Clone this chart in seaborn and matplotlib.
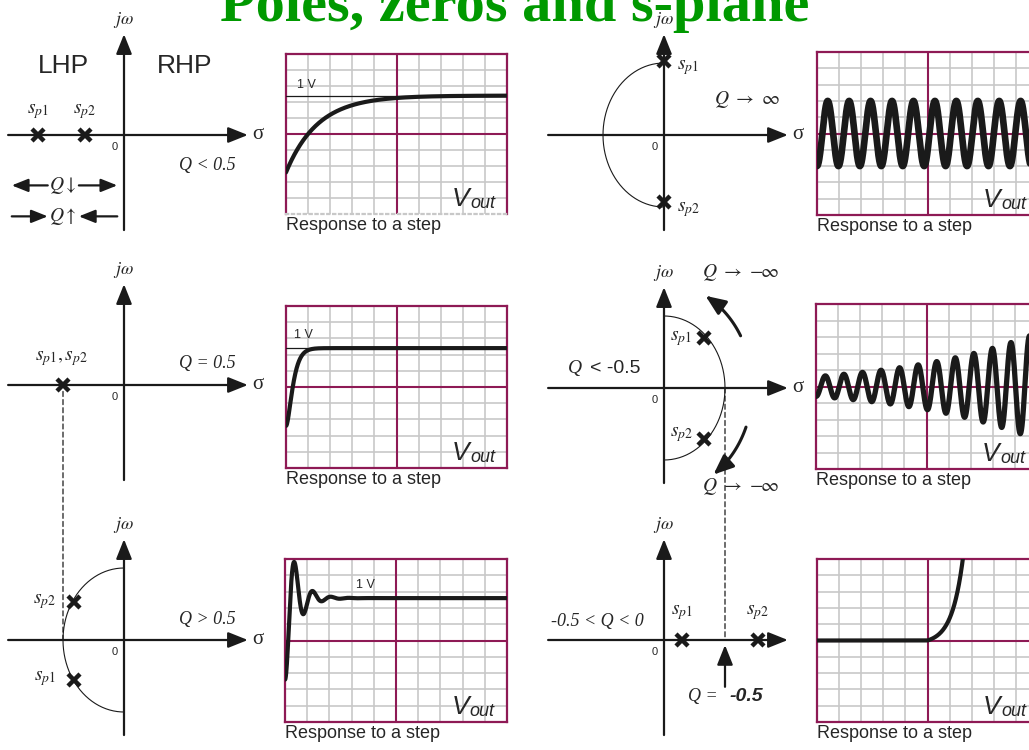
import numpy as np
import matplotlib
matplotlib.use("Agg")
import matplotlib.pyplot as plt
from matplotlib.patches import ConnectionPatch
import seaborn as sns

# ---------------------------------------------------------------- data
# pole locations (sigma, omega) on each s-plane, omega_0 normalised to 1
poles_q_low = [(-1.41, 0.0), (-0.64, 0.0)]        # Q < 0.5
poles_q_half = [(-1.0, 0.0)]                       # Q = 0.5
poles_q_high = [(-0.82, 0.53), (-0.82, -0.55)]     # Q > 0.5
poles_q_inf = [(0.0, 1.03), (0.0, -0.93)]          # Q -> inf
poles_q_neg = [(0.66, 0.69), (0.66, -0.71)]        # Q < -0.5
poles_q_negsmall = [(0.30, 0.0), (1.54, 0.0)]      # -0.5 < Q < 0
locus_radius = 1.0
swing_radius = 1.45
swing_arcs_deg = [(30.0, 62.0), (-22.0, -56.0)]    # Q -> -inf movement

# step-response shapes (time in divisions, level in divisions)
level_zero = -2.4
level_one = 2.4
tau_over = 1.44                  # Q < 0.5
wn_crit = 5.5                    # Q = 0.5
zeta_under, wn_under = 0.25, 7.9 # Q > 0.5
level_one_under = 2.6
osc_amp, osc_period = 2.0, 0.97                       # Q -> inf
grow_amp, grow_rate, grow_period = 0.6, 0.169, 0.84   # Q < -0.5
exp_start, exp_amp, exp_rate = 5.0, 0.213, 2.0        # -0.5 < Q < 0

# ---------------------------------------------------------------- style
sns.set_theme(style="white")
plt.rcParams["font.family"] = ["Liberation Sans", "DejaVu Sans"]
plt.rcParams["mathtext.fontset"] = "stix"

MAROON = "#8e1a55"
GRID = "#c8c8c8"
SERIF = ["Liberation Serif", "DejaVu Serif"]
AXLW = 1.6

W, H = 1029, 750
fig = plt.figure(figsize=(W / 100, H / 100), dpi=100)
fig.patch.set_facecolor("white")


def px_axes(left, top, right, bottom):
    return fig.add_axes([left / W, 1 - bottom / H, (right - left) / W, (bottom - top) / H])


def arrow(ax, start, end, lw=AXLW, hl=0.6, hw=0.24, ms=20):
    ax.annotate("", xy=end, xytext=start, xycoords="data",
                arrowprops=dict(arrowstyle=f"-|>,head_length={hl},head_width={hw}",
                                lw=lw, color="k", shrinkA=0, shrinkB=0,
                                mutation_scale=ms),
                annotation_clip=False)


# s-plane panels: pixels per unit along sigma and omega
SX, SY = 61, 72
XL, YL = (-2.2, 2.4), (-1.5, 1.7)


def splane(ox, oy, sigma_label=True):
    ax = px_axes(ox + XL[0] * SX, oy - YL[1] * SY, ox + XL[1] * SX, oy - YL[0] * SY)
    ax.set_xlim(*XL)
    ax.set_ylim(*YL)
    ax.axis("off")
    arrow(ax, (-1.9, 0), (2.03, 0))
    arrow(ax, (0, -1.32), (0, 1.40))
    if sigma_label:
        ax.text(2.1, 0.01, "σ", ha="left", va="center", fontsize=15, family=SERIF)
    ax.text(-0.15, -0.16, "0", ha="center", va="center", fontsize=8)
    ax.text(0, 1.6, r"$j\omega$", ha="center", va="center", fontsize=13)
    return ax


def poles(ax, pts):
    xs = [p[0] for p in pts]
    ys = [p[1] for p in pts]
    ax.plot(xs, ys, "x", ms=9, mew=3.2, color="k", clip_on=False, zorder=5)


def locus(ax, a0, a1):
    th = np.radians(np.linspace(a0, a1, 200))
    ax.plot(locus_radius * np.cos(th), locus_radius * np.sin(th),
            color="k", lw=0.8, clip_on=False)


def serif_it(ax, x, y, s, size=13, **kw):
    kw.setdefault("ha", "center")
    kw.setdefault("va", "center")
    ax.text(x, y, s, fontsize=size, family=SERIF, style="italic", **kw)


def scope(left, top, right, bottom, dotted_bottom=False):
    ax = px_axes(left, top, right, bottom)
    ax.set_xlim(0, 10)
    ax.set_ylim(-5, 5)
    ax.set_xticks([])
    ax.set_yticks([])
    ax.set_facecolor("white")
    for k in range(1, 10):
        if k == 5:
            continue
        ax.axvline(k, color=GRID, lw=1.2, zorder=1)
        ax.axhline(k - 5, color=GRID, lw=1.2, zorder=1)
    ax.axvline(5, color=MAROON, lw=1.5, zorder=1.5)
    ax.axhline(0, color=MAROON, lw=1.5, zorder=1.5)
    for sp in ax.spines.values():
        sp.set_visible(True)
        sp.set_color(MAROON)
        sp.set_linewidth(1.6)
    if dotted_bottom:
        ax.spines["bottom"].set_color(GRID)
        ax.spines["bottom"].set_linestyle(":")
    v = ax.text(7.5, -4.5, "V", fontsize=19, style="italic", ha="left", va="baseline", zorder=6)
    ax.annotate("out", xy=(1, 0), xycoords=v, xytext=(0.5, -1), textcoords="offset points",
                fontsize=13, style="italic", ha="left", va="bottom", zorder=6)
    ax.annotate("Response to a step", xy=(0, 0), xycoords="axes fraction",
                xytext=(0, -2), textcoords="offset points", ha="left", va="top",
                fontsize=13, annotation_clip=False)
    return ax


def trace(ax, t, y, lw=3.0):
    sns.lineplot(x=t, y=y, ax=ax, color="k", lw=lw, sort=False, estimator=None,
                 zorder=4, legend=False)
    ax.set_xlim(0, 10)
    ax.set_ylim(-5, 5)
    ax.set_xlabel("")
    ax.set_ylabel("")


t = np.linspace(0, 10, 2000)

# ---------------------------------------------------------------- title
fig.text(0.5, 1 - 21 / H, "Poles, zeros and s-plane", ha="center", va="baseline",
         fontsize=42, fontweight="bold", family=SERIF, color="#009900")

# ---------------------------------------------------------------- Q < 0.5
ax1 = splane(124, 135)
poles(ax1, poles_q_low)
ax1.text(-1.0, 0.96, "LHP", ha="center", va="center", fontsize=19)
ax1.text(1.0, 0.96, "RHP", ha="center", va="center", fontsize=19)
ax1.text(poles_q_low[0][0], 0.32, r"$s_{p1}$", ha="center", va="center", fontsize=14)
ax1.text(poles_q_low[1][0], 0.32, r"$s_{p2}$", ha="center", va="center", fontsize=14)
serif_it(ax1, 1.36, -0.42, "Q < 0.5")
arrow(ax1, (-1.25, -0.70), (-1.84, -0.70), hl=0.55, hw=0.22, ms=18)
arrow(ax1, (-0.74, -0.70), (-0.11, -0.70), hl=0.55, hw=0.22, ms=18)
ax1.text(-1.0, -0.70, r"$Q\downarrow$", ha="center", va="center", fontsize=14)
arrow(ax1, (-1.84, -1.13), (-1.25, -1.13), hl=0.55, hw=0.22, ms=18)
arrow(ax1, (-0.11, -1.13), (-0.74, -1.13), hl=0.55, hw=0.22, ms=18)
ax1.text(-1.0, -1.13, r"$Q\uparrow$", ha="center", va="center", fontsize=14)

s1 = scope(286, 54, 507, 214, dotted_bottom=True)
s1.axhline(level_one, color="k", lw=0.9, zorder=3)
s1.text(0.5, level_one + 0.5, "1 V", fontsize=9, ha="left", va="baseline")
trace(s1, t, level_zero + (level_one - level_zero) * (1 - np.exp(-t / tau_over)))

# ---------------------------------------------------------------- Q -> inf
ax2 = splane(664, 135)
locus(ax2, 90, 270)
poles(ax2, poles_q_inf)
ax2.text(0.22, poles_q_inf[0][1] - 0.09, r"$s_{p1}$", ha="left", va="center", fontsize=14)
ax2.text(0.22, poles_q_inf[1][1] - 0.10, r"$s_{p2}$", ha="left", va="center", fontsize=14)
ax2.text(1.36, 0.49, r"$Q\ \rightarrow\ \infty$", ha="center", va="center", fontsize=14)

s2 = scope(817, 52, 1038, 215)
trace(s2, t, -osc_amp * np.cos(2 * np.pi * t / osc_period), lw=4.8)

# ---------------------------------------------------------------- Q = 0.5
ax3 = splane(124, 385)
poles(ax3, poles_q_half)
ax3.text(-1.02, 0.37, r"$s_{p1}, s_{p2}$", ha="center", va="center", fontsize=14)
serif_it(ax3, 1.36, 0.30, "Q = 0.5")

s3 = scope(286, 306, 507, 468)
s3.axhline(level_one, color="k", lw=0.9, zorder=3)
s3.text(0.35, level_one + 0.6, "1 V", fontsize=9, ha="left", va="baseline")
trace(s3, t, level_zero + (level_one - level_zero)
      * (1 - (1 + wn_crit * t) * np.exp(-wn_crit * t)))

# ---------------------------------------------------------------- Q < -0.5
ax4 = splane(664, 388)
locus(ax4, -90, 90)
poles(ax4, poles_q_neg)
ax4.text(0.28, 0.69, r"$s_{p1}$", ha="center", va="center", fontsize=14)
ax4.text(0.28, -0.65, r"$s_{p2}$", ha="center", va="center", fontsize=14)
serif_it(ax4, -1.46, 0.27, "Q", size=14)
ax4.text(-1.22, 0.27, "< -0.5", ha="left", va="center", fontsize=14)
ax4.text(1.26, 1.60, r"$Q\ \rightarrow\ {-}\!\infty$", ha="center", va="center", fontsize=14)
ax4.text(1.26, -1.37, r"$Q\ \rightarrow\ {-}\!\infty$", ha="center", va="center", fontsize=14)
for a0, a1 in swing_arcs_deg:
    th = np.radians(np.linspace(a0, a1, 80))
    xs, ys = swing_radius * np.cos(th), swing_radius * np.sin(th)
    ax4.plot(xs[:-6], ys[:-6], color="k", lw=2.2, clip_on=False)
    arrow(ax4, (xs[-14], ys[-14]), (xs[-1], ys[-1]), lw=2.2, hl=0.6, hw=0.25, ms=20)

s4 = scope(816, 304, 1037, 469)
trace(s4, t, -grow_amp * np.exp(grow_rate * t) * np.cos(2 * np.pi * t / grow_period), lw=3.8)

# ---------------------------------------------------------------- Q > 0.5
ax5 = splane(124, 640)
locus(ax5, 90, 270)
poles(ax5, poles_q_high)
ax5.text(-1.30, 0.54, r"$s_{p2}$", ha="center", va="center", fontsize=14)
ax5.text(-1.30, -0.53, r"$s_{p1}$", ha="center", va="center", fontsize=14)
serif_it(ax5, 1.36, 0.28, "Q > 0.5")

s5 = scope(285, 559, 507, 722)
s5.text(3.2, level_one_under + 0.65, "1 V", fontsize=9, ha="left", va="baseline")
wd = wn_under * np.sqrt(1 - zeta_under ** 2)
under = 1 - np.exp(-zeta_under * wn_under * t) * (
    np.cos(wd * t) + zeta_under / np.sqrt(1 - zeta_under ** 2) * np.sin(wd * t))
trace(s5, t, level_zero + (level_one_under - level_zero) * under)

# ---------------------------------------------------------------- -0.5 < Q < 0
ax6 = splane(664, 640, sigma_label=False)
poles(ax6, poles_q_negsmall)
ax6.text(poles_q_negsmall[0][0], 0.375, r"$s_{p1}$", ha="center", va="center", fontsize=14)
ax6.text(poles_q_negsmall[1][0], 0.375, r"$s_{p2}$", ha="center", va="center", fontsize=14)
serif_it(ax6, -1.10, 0.26, "-0.5 < Q < 0")
arrow(ax6, (locus_radius, -0.65), (locus_radius, -0.07))
serif_it(ax6, 0.88, -0.79, "Q =", ha="right")
ax6.text(1.07, -0.79, "-0.5", ha="left", va="center", fontsize=14,
         fontweight="bold", style="italic")

s6 = scope(817, 559, 1038, 722)
rise = np.where(t < exp_start, 0.0, exp_amp * (np.exp(exp_rate * (t - exp_start)) - 1))
trace(s6, t, rise)

# ---------------------------------------------------------------- links at |Q| = 0.5
for a, b in [(ax3, ax5), (ax4, ax6)]:
    x0 = -locus_radius if a is ax3 else locus_radius
    con = ConnectionPatch(xyA=(x0, -0.09 if a is ax3 else 0.0), coordsA=a.transData,
                          xyB=(x0, 0.0), coordsB=b.transData,
                          ls=(0, (4, 2.5)), lw=0.9, color="k")
    fig.add_artist(con)

fig.savefig("out.png", dpi=100, facecolor="white")
